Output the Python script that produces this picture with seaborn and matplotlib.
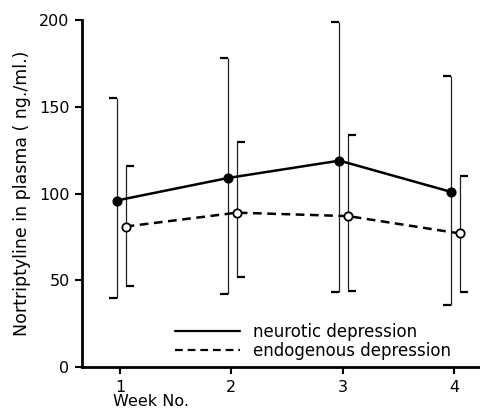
import numpy as np
import pandas as pd
import seaborn as sns
import matplotlib.pyplot as plt
from matplotlib.lines import Line2D
from matplotlib.path import Path

# values (ng./ml.)
weeks = [1, 2, 3, 4]
neurotic_mean = [96, 109, 119, 101]
neurotic_upper = [155, 178, 199, 168]
neurotic_lower = [40, 42, 43, 36]
endogenous_mean = [81, 89, 87, 77]
endogenous_upper = [116, 130, 134, 110]
endogenous_lower = [47, 52, 44, 43]

sns.set_style("ticks")
plt.rcParams["font.family"] = ["DejaVu Sans"]
plt.rcParams["text.color"] = "black"
plt.rcParams["axes.labelcolor"] = "black"

df = pd.DataFrame({
    "week": weeks * 2,
    "mean": neurotic_mean + endogenous_mean,
    "upper": neurotic_upper + endogenous_upper,
    "lower": neurotic_lower + endogenous_lower,
    "group": ["neurotic"] * 4 + ["endogenous"] * 4,
})
# small sideways shift so the two series do not overlap
df["x"] = df["week"] + np.where(df["group"] == "neurotic", -0.03, 0.05)

fig = plt.figure(figsize=(4.81, 4.11), dpi=100)
ax = fig.add_axes([0.1705, 0.107, 0.8295, 0.844])

# half caps: neurotic caps point left, endogenous caps point right
cap_left = Path([(-1, 0), (0, 0)])
cap_right = Path([(0, 0), (1, 0)])

styles = {
    "neurotic": dict(ls="-", face="black", cap=cap_left),
    "endogenous": dict(ls="--", face="white", cap=cap_right),
}

for name, st in styles.items():
    d = df[df["group"] == name]
    ax.vlines(d["x"], d["lower"], d["upper"], color="#222222", lw=0.9, zorder=1)
    for col in ["upper", "lower"]:
        ax.plot(d["x"], d[col], ls="none", marker=st["cap"], markersize=11,
                markeredgewidth=1.6, color="black", zorder=1)
    sns.lineplot(data=d, x="x", y="mean", ax=ax, color="black", lw=1.8,
                 linestyle=st["ls"], marker="o", markersize=6,
                 markerfacecolor=st["face"], markeredgecolor="black",
                 markeredgewidth=1.3, zorder=3, legend=False)
    if st["ls"] == "--":
        ax.lines[-1].set_dashes((3.5, 2.2))

ax.set_xlim(0.659, 4.24)
ax.set_ylim(0, 200)
ax.set_xticks(weeks)
ax.set_yticks([0, 50, 100, 150, 200])
ax.tick_params(axis="both", direction="out", length=5, width=1.5,
               labelsize=11.5, colors="black", pad=4)
for side in ["top", "right"]:
    ax.spines[side].set_visible(False)
for side in ["left", "bottom"]:
    ax.spines[side].set_linewidth(2)
    ax.spines[side].set_color("black")

ax.set_xlabel("")
ax.set_ylabel("Nortriptyline in plasma ( ng./ml.)", fontsize=12.5, labelpad=6,
              color="black")
fig.text(0.235, 0.004, "Week No.", fontsize=11.5, ha="left", va="bottom")

handles = [Line2D([], [], color="black", lw=1.6),
           Line2D([], [], color="black", lw=1.6, dashes=(3.5, 2.2))]
ax.legend(handles, ["neurotic depression", "endogenous depression"],
          frameon=False, loc="lower left", bbox_to_anchor=(0.195, -0.023),
          handlelength=3.9, handletextpad=0.78, labelspacing=0.05, fontsize=12)

fig.savefig("out.png", dpi=100)
